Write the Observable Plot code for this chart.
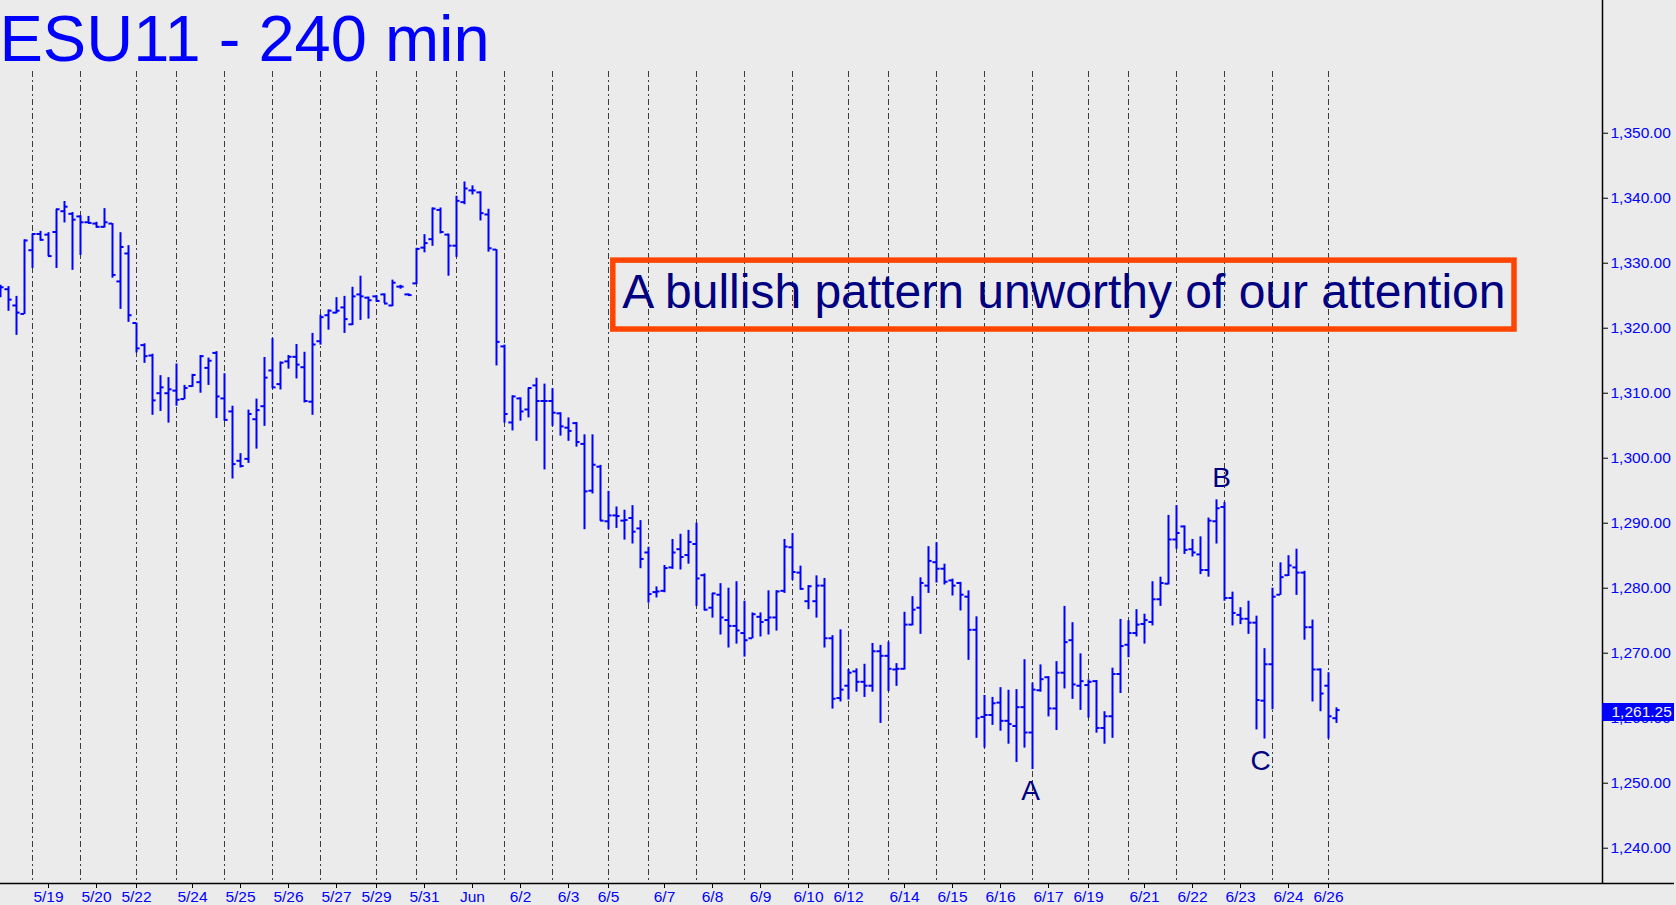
<!DOCTYPE html>
<html>
<head>
<meta charset="utf-8">
<script src="https://cdn.jsdelivr.net/npm/d3@7"></script>
<script src="https://cdn.jsdelivr.net/npm/@observablehq/plot@0.6"></script>
<style>
html, body { margin: 0; padding: 0; background: #ebebeb; }
#chart { width: 1676px; height: 905px; overflow: hidden; }
</style>
</head>
<body>
<div id="chart"></div>
<script>
// ---- DATA (240-minute OHLC bars) ----
const opens = [
1325.3,1326.0,1323.5,1322.2,1332.0,1334.5,1334.4,1334.8,1338.0,1337.6,
1337.2,1336.3,1336.1,1335.6,1336.1,1327.2,1331.5,1320.8,1317.4,1315.8,
1310.0,1310.0,1310.4,1309.1,1311.1,1311.7,1313.9,1316.2,1309.2,1307.2,
1299.6,1299.9,1306.0,1308.0,1313.5,1311.4,1314.9,1315.6,1314.0,1308.7,
1318.0,1322.0,1322.4,1323.2,1320.6,1325.2,1324.7,1324.9,1325.2,1323.5,
1326.4,1325.2,1326.9,1332.4,1333.7,1338.2,1334.4,1332.7,1339.4,1341.2,
1340.9,1337.5,1332.1,1317.2,1305.5,1309.2,1307.5,1311.2,1308.8,1308.8,
1306.9,1304.7,1305.4,1302.2,1295.0,1298.7,1290.3,1291.2,1290.4,1290.8,
1289.2,1285.5,1279.4,1279.6,1283.2,1286.0,1285.1,1286.8,1282.0,1277.0,
1279.0,1275.1,1274.2,1273.1,1272.3,1275.6,1275.1,1275.5,1279.6,1286.3,
1282.4,1278.0,1278.0,1280.4,1272.3,1263.1,1265.0,1267.2,1265.6,1265.0,
1270.3,1269.6,1267.5,1267.6,1274.4,1277.0,1280.4,1284.0,1283.0,1281.2,
1280.8,1278.7,1273.6,1260.2,1260.5,1262.4,1259.6,1258.8,1261.7,1257.8,
1264.3,1266.3,1261.5,1267.0,1272.0,1265.0,1265.1,1265.7,1258.5,1260.3,
1266.8,1271.3,1273.1,1274.5,1274.8,1278.3,1280.7,1287.5,1289.5,1286.0,
1285.2,1282.8,1290.3,1292.5,1278.5,1275.9,1275.3,1274.7,1262.7,1268.3,
1279.0,1282.0,1283.2,1282.4,1274.0,1267.5,1265.0,1260.0
];
const highs = [
1326.6,1326.4,1324.9,1333.6,1334.5,1334.9,1334.7,1338.3,1339.5,1337.8,
1337.3,1337.2,1336.3,1338.4,1336.1,1334.7,1332.7,1320.8,1317.6,1316.0,
1312.7,1312.4,1314.5,1311.2,1312.9,1315.8,1315.4,1316.4,1313.0,1308.0,
1300.7,1307.4,1309.1,1315.5,1318.4,1314.8,1315.8,1317.5,1316.3,1319.2,
1322.0,1322.8,1324.7,1324.9,1326.3,1328.0,1324.8,1325.0,1325.3,1327.4,
1326.6,1325.3,1332.3,1334.4,1338.5,1338.5,1334.5,1340.3,1342.5,1341.9,
1341.0,1338.3,1332.1,1317.4,1309.6,1309.3,1310.8,1312.3,1311.4,1310.7,
1307.0,1306.2,1305.5,1303.6,1303.6,1298.9,1294.9,1292.5,1292.0,1292.7,
1290.4,1286.3,1280.2,1283.5,1287.5,1288.3,1288.9,1290.0,1282.2,1279.2,
1280.7,1280.0,1281.0,1278.0,1276.2,1276.2,1279.6,1279.6,1287.5,1288.4,
1283.4,1280.4,1281.9,1281.5,1272.7,1273.6,1267.5,1267.6,1268.3,1271.5,
1271.2,1271.7,1268.4,1276.3,1278.7,1281.6,1286.4,1287.0,1283.7,1281.4,
1280.9,1279.6,1275.6,1263.5,1263.2,1264.7,1264.3,1264.4,1269.0,1265.4,
1268.2,1266.4,1268.7,1277.2,1274.7,1269.9,1265.9,1265.8,1261.0,1267.7,
1275.2,1275.0,1276.7,1276.0,1281.0,1281.7,1291.2,1292.7,1289.6,1287.5,
1287.9,1290.8,1293.6,1293.2,1279.4,1277.0,1278.0,1275.7,1270.7,1280.0,
1283.9,1285.0,1286.0,1282.6,1275.1,1267.6,1267.0,1261.6
];
const lows = [
1324.7,1322.6,1318.9,1322.1,1329.2,1333.4,1331.0,1329.2,1336.2,1328.9,
1331.2,1336.1,1335.4,1335.4,1327.7,1322.9,1320.9,1316.2,1314.6,1306.6,
1307.2,1305.4,1308.0,1309.0,1310.9,1310.0,1311.2,1306.1,1305.7,1296.8,
1298.5,1299.2,1301.4,1304.9,1310.7,1310.5,1313.7,1312.2,1308.5,1306.6,
1317.4,1319.7,1322.2,1319.2,1320.4,1321.2,1321.4,1324.0,1323.8,1323.3,
1326.0,1325.0,1326.7,1331.6,1332.6,1334.5,1328.0,1330.9,1339.0,1340.5,
1336.5,1331.7,1314.2,1305.4,1304.2,1305.7,1306.2,1302.6,1298.2,1304.9,
1303.4,1302.6,1301.7,1289.0,1294.5,1290.3,1289.0,1289.2,1287.4,1286.8,
1283.0,1277.7,1278.5,1279.3,1282.9,1282.8,1283.7,1277.2,1276.5,1275.4,
1272.8,1270.8,1271.4,1269.4,1272.2,1272.5,1272.8,1273.4,1279.2,1281.2,
1279.7,1276.7,1275.4,1270.8,1261.4,1262.5,1262.8,1264.0,1263.2,1264.0,
1259.2,1264.1,1264.9,1267.4,1274.2,1272.9,1279.2,1280.8,1280.5,1278.8,
1276.5,1268.9,1256.9,1255.4,1258.9,1258.0,1256.0,1253.2,1255.4,1252.1,
1264.0,1260.2,1258.1,1264.5,1262.9,1261.2,1260.0,1257.7,1256.0,1256.9,
1263.8,1269.3,1272.5,1271.4,1274.2,1277.2,1280.5,1286.0,1285.2,1284.8,
1282.1,1281.7,1286.8,1278.0,1274.2,1274.4,1272.9,1258.2,1256.8,1261.3,
1278.9,1281.8,1278.9,1272.0,1262.5,1261.0,1256.8,1259.2
];
const closes = [
1326.3,1324.4,1322.4,1333.5,1334.5,1333.6,1331.1,1338.3,1338.7,1336.7,
1336.3,1336.2,1335.6,1336.3,1328.2,1332.5,1322.0,1316.9,1315.7,1308.9,
1310.9,1310.6,1309.0,1310.8,1312.8,1315.7,1315.0,1309.5,1305.9,1299.1,
1298.8,1306.8,1307.4,1312.4,1310.9,1314.7,1315.6,1314.4,1308.8,1317.5,
1321.7,1322.7,1322.7,1321.4,1324.9,1324.9,1324.3,1324.2,1323.8,1327.0,
1326.4,1325.1,1332.2,1333.1,1338.4,1334.8,1332.7,1339.6,1341.5,1341.2,
1337.7,1332.3,1317.9,1306.8,1309.5,1307.2,1310.8,1308.8,1308.8,1307.0,
1304.9,1304.2,1302.5,1294.9,1299.0,1290.4,1291.2,1291.1,1290.5,1288.7,
1284.5,1279.1,1279.5,1283.1,1285.5,1284.8,1287.1,1281.5,1276.7,1279.2,
1275.5,1274.2,1273.5,1272.0,1276.0,1274.8,1275.5,1279.5,1286.4,1282.5,
1279.9,1280.3,1280.4,1272.3,1263.0,1264.4,1267.0,1265.6,1265.0,1270.3,
1269.6,1267.6,1267.6,1274.4,1276.7,1280.8,1284.2,1283.0,1281.0,1280.4,
1279.0,1273.6,1260.0,1260.5,1262.3,1259.6,1259.1,1261.7,1257.8,1264.4,
1266.0,1261.5,1267.0,1271.7,1265.2,1265.7,1265.6,1258.5,1260.3,1266.8,
1271.1,1273.1,1274.4,1275.1,1278.3,1280.8,1287.5,1288.5,1285.9,1285.5,
1282.8,1290.4,1292.3,1278.5,1276.2,1275.3,1274.7,1262.8,1268.3,1278.7,
1281.7,1283.5,1282.4,1274.0,1267.5,1263.8,1260.3,1261.25
];

// x-axis: bar index of each labelled date, and its label
const tickBars   = [6, 12, 17, 24, 30, 36, 42, 47, 53, 59, 65, 71, 76, 83, 89, 95, 101, 106, 113, 119, 125, 131, 136, 143, 149, 155, 161, 166];
const tickLabels = ["5/19","5/20","5/22","5/24","5/25","5/26","5/27","5/29","5/31","Jun","6/2","6/3","6/5","6/7","6/8","6/9","6/10","6/12","6/14","6/15","6/16","6/17","6/19","6/21","6/22","6/23","6/24","6/26"];
// bar index at which each trading session starts (dashed separators)
const sessionBars = [4, 10, 17, 22, 28, 34, 40, 47, 52, 57, 63, 69, 76, 81, 87, 93, 99, 106, 111, 117, 123, 129, 136, 141, 147, 153, 159, 166];
// y-axis tick values
const priceTicks = [1240, 1250, 1260, 1270, 1280, 1290, 1300, 1310, 1320, 1330, 1340, 1350];
// wave labels and the bars they mark
const waveLabels = ["A", "B", "C"];
const waveBars   = [129, 152, 158];
const waveSide   = ["low", "high", "low"];

const titleText = "ESU11 - 240 min";
const noteText  = "A bullish pattern unworthy of our attention";

// ---- LAYOUT ----
const W = 1676, H = 905;
const mRight = 74, mBottom = 22;
const xMax = 200.25;         // right edge of plot frame (bar units)
const xFull = 209.25;        // right edge of price-label strip
const yDomain = [1234.57, 1370.42];
const note = {x1: 76.6, x2: 189.25, y1: 1319.8, y2: 1330.4};
const FONT = "'Liberation Sans', Arial, Helvetica, sans-serif";
const BLUE = "#0000ff", NAVY = "#000080";

const bars = opens.map((o, i) => ({i, o, h: highs[i], l: lows[i], c: closes[i]}));
const lastClose = closes[closes.length - 1];
const waves = waveLabels.map((t, k) => {
  const b = bars[waveBars[k]];
  return {t, i: b.i, y: waveSide[k] === "high" ? b.h : b.l, side: waveSide[k]};
});
const fmt = d3.format(",.2f");

const chart = Plot.plot({
  width: W, height: H,
  marginLeft: 0, marginRight: mRight, marginTop: 0, marginBottom: mBottom,
  x: {type: "linear", domain: [0, xMax]},
  y: {type: "linear", domain: yDomain},
  style: {fontFamily: FONT, background: "#ebebeb", overflow: "visible"},
  marks: [
    // session separators
    Plot.ruleX(sessionBars, {x: d => d, insetTop: 71, stroke: "#3c3c3c", strokeWidth: 1, strokeDasharray: "6,3,2,3"}),
    // title
    Plot.text([titleText], {frameAnchor: "top-left", text: d => d, dx: -1, dy: 14, lineAnchor: "top", textAnchor: "start", fontSize: 65, fill: BLUE}),
    // OHLC bars
    Plot.ruleX(bars, {x: "i", y1: "l", y2: "h", stroke: BLUE, strokeWidth: 2}),
    Plot.ruleY(bars, {y: "o", x1: d => d.i - 0.45, x2: "i", stroke: BLUE, strokeWidth: 2}),
    Plot.ruleY(bars, {y: "c", x1: "i", x2: d => d.i + 0.45, stroke: BLUE, strokeWidth: 2}),
    // axes frame lines
    Plot.ruleX([xMax], {stroke: "#000", strokeWidth: 1.5}),
    Plot.ruleY([yDomain[0]], {x1: 0, x2: xFull, stroke: "#000", strokeWidth: 1.5}),
    // axes
    Plot.axisY({anchor: "right", ticks: priceTicks, tickFormat: fmt, tickSize: 5, tickPadding: 3,
      stroke: "#000", fill: BLUE, fontSize: 15.5, fontFamily: FONT}),
    Plot.axisX({anchor: "bottom", ticks: tickBars, tickFormat: d => tickLabels[tickBars.indexOf(d)],
      tickSize: 5, tickPadding: 2, stroke: "#000", fill: BLUE, fontSize: 15.5, fontFamily: FONT}),
    // last price flag
    Plot.ruleY([lastClose], {x1: xMax, x2: xFull, dy: 2, stroke: BLUE, strokeWidth: 18}),
    Plot.text([lastClose], {x: () => xMax, y: d => d, text: d => fmt(d), dx: 9, dy: 2, textAnchor: "start", fill: "#f4f4ff", fontSize: 15.5}),
    // annotation box
    Plot.rect([note], {x1: "x1", x2: "x2", y1: "y1", y2: "y2", fill: "none", stroke: "#ff4500", strokeWidth: 5.5}),
    Plot.text([note], {x: d => (d.x1 + d.x2) / 2, y: d => (d.y1 + d.y2) / 2, text: () => noteText, dy: -2, fontSize: 48, fill: NAVY}),
    // wave labels (below lows / above highs)
    Plot.text(waves.filter(d => d.t === "A"), {x: "i", y: "y", text: "t", dx: -2, dy: 21, fontSize: 28, fill: NAVY}),
    Plot.text(waves.filter(d => d.t === "C"), {x: "i", y: "y", text: "t", dx: -4, dy: 22, fontSize: 28, fill: NAVY}),
    Plot.text(waves.filter(d => d.side === "high"), {x: "i", y: "y", text: "t", dx: 5, dy: -22, fontSize: 28, fill: NAVY})
  ]
});
document.getElementById("chart").appendChild(chart);
</script>
</body>
</html>
